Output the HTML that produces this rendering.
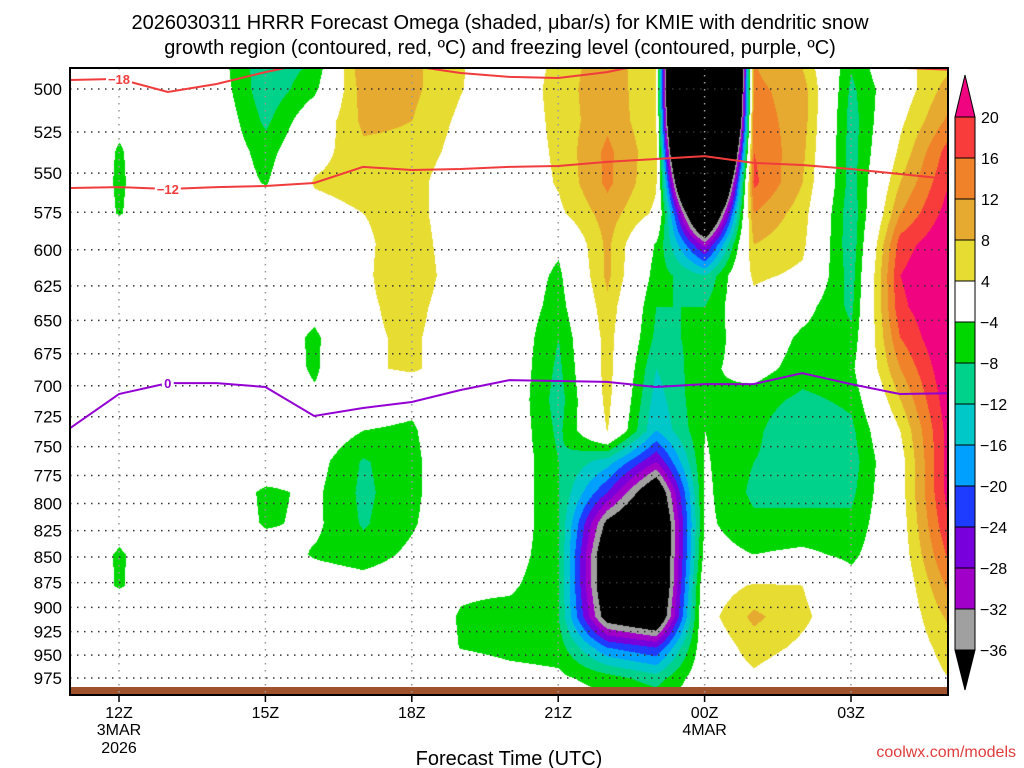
<!DOCTYPE html>
<html><head><meta charset="utf-8">
<style>
body{margin:0;background:#fff;width:1024px;height:768px;overflow:hidden;font-family:"Liberation Sans",sans-serif;}
#wrap{position:relative;width:1024px;height:768px;}
canvas{position:absolute;left:70px;top:68px;}
svg{position:absolute;left:0;top:0;}
</style></head>
<body>
<div id="wrap">
<canvas id="cv" width="878" height="627"></canvas>
<svg id="sv" width="1024" height="768"></svg>
</div>
<script>
// ---- data ----
const hours = [11,12,13,14,15,16,17,18,19,20,21,22,23,24,25,26,27,28,29];
const levels = [482.7,500,517.9,536.4,555.5,575.5,596.0,617.4,639.5,662.4,686.1,710.6,736.0,762.4,789.6,817.9,847.2,877.5,908.9,941.4,975,1009.9];
const omega11 = [0,0,0,0,0,0,0,0,0,0,0,0,0,0,0,0,0,0,0,0,0,0];
const omega12 = [0,0,-3,-4.4,-4.6,-4.3,0,0,0,0,0,0,0,0,0,-2,-4.6,-4.5,0,0,0,0];
const omega13 = [0,0,0,0,0,0,0,0,0,0,0,0,0,0,0,0,0,0,0,0,0,0];
const omega14 = [-2,-1,0,0,0,0,0,0,0,0,0,0,0,0,0,0,0,0,0,0,0,0];
const omega15 = [-11,-11,-9,-6,-4.5,0,0,0,0,0,0,0,0,0,-5,-4.6,-1,0,0,0,0,0];
const omega16 = [-8,-5,0,2,4.5,2,0,0,-2,-5,-4.8,-3,0,-2,-3,-3,-4.5,-1,0,0,0,0];
const omega17 = [12,10,9,7,6,4,3,3,3,3,3,-2,-4,-8.5,-9,-8.5,-6,-2,0,0,0,0];
const omega18 = [9,9,8,7,6,6,7,8,6,5,5,-3,-4.5,-5,-5,-4.5,-3,-1,0,0,0,0];
const omega19 = [4.5,4.2,3,2,0,0,0,0,0,0,0,0,0,0,0,0,0,-3,-4.5,-4.2,0,0];
const omega20 = [0,0,0,0,0,0,0,0,0,0,0,0,0,0,0,0,-1,-3,-6,-5.5,-2,0];
const omega21 = [5,6,5.5,5,4.5,3,-3,-5,-6,-8,-9,-10,-9,-8,-8,-8,-8,-8,-8,-6,-3,0];
const omega22 = [11,11,11,13,13,10,9,9,7,6,6,5.5,4.2,-14,-24,-38,-44,-44,-40,-20,-6,-2];
const omega23 = [4,4,4.5,5,4.5,3,-4.5,-6,-8,-9,-12,-14,-16,-28,-44,-50,-50,-50,-46,-24,-10,-3];
const omega00 = [-200,-200,-180,-140,-100,-60,-30,-12,-8,-7,-5,-4,-4,-3.5,-3,-3,-2,1,2,0,0,0];
const omega01 = [12,13,14,16,17,12,8,5,2,0,-2,-6,-7,-8,-9,-7,-4,4.5,9,6,3,0];
const omega02 = [7,10,10,9,8,6,5,3,-2,-5,-6,-9,-12,-10,-9,-7,-3,4,5,3,0,0];
const omega03 = [-7,-9,-10,-10,-10,-11,-11,-10,-9,-7,-5,-7,-9,-10,-9,-7,-5,-2,0,0,0,0];
const omega04 = [3,1,3,5,8,12,18,20,19,16,12,8,4,2,2,1.5,1,0,0,0,0,0];
const omega05 = [6,10,13,18,20,22,24,25,25,25,24,23,22,22,22,20,17,13,9,6,4,2];
const omegaCols = [omega11,omega12,omega13,omega14,omega15,omega16,omega17,omega18,omega19,omega20,omega21,omega22,omega23,omega00,omega01,omega02,omega03,omega04,omega05];

const lineHours = [11,12,13,14,15,16,17,18,19,20,21,22,23,24,25,26,27,28,29];
const isoMinus12 = [559.4,558.8,560.0,558.8,558.1,556.2,546.2,548.1,547.5,546.2,545.6,543.1,541.3,539.5,543.7,545.0,547.5,550.6,553.7];
const isoMinus18 = [494.9,494.3,501.7,497.2,490.5,484.9,484.0,487.1,491.0,493.2,493.8,490.5,484.9,484.0,484.0,484.9,487.1,488.1,489.2];
const isoZero = [734.4,706.6,697.9,697.9,701.0,724.4,717.9,713.0,703.4,695.5,696.2,696.9,701.0,698.7,698.7,690.0,698.7,706.6,705.9];

const yTicks = [500,525,550,575,600,625,650,675,700,725,750,775,800,825,850,875,900,925,950,975];
const xTickHours = [12,15,18,21,24,27];
const xTickLabels = ["12Z","15Z","18Z","21Z","00Z","03Z"];
const cbarLevels = [20,16,12,8,4,-4,-8,-12,-16,-20,-24,-28,-32,-36];
const cbarColors = ["#f83c3c","#f0822a","#e6aa30","#e6dc32","#ffffff","#00d700","#00d28c","#00c8c8","#00a0ff","#1e3cff","#7800dc","#a000c8","#a0a0a0"];

// ---- axes ----
const X0=70,X1=948,Y0=68,Y1=695;
const xs = h => 119 + (h-12)*48.8;
const ys = p => 89 + 882*Math.log(p/500);
function colorFor(v){
  if(v>20) return [240,4,127];
  if(v<-36) return [0,0,0];
  const th=[16,12,8,4,-4,-8,-12,-16,-20,-24,-28,-32,-36];
  for(let i=0;i<th.length;i++){ if(v>=th[i]){ const c=cbarColors[i]; return [parseInt(c.substr(1,2),16),parseInt(c.substr(3,2),16),parseInt(c.substr(5,2),16)]; } }
  return [0,0,0];
}
// ---- shading ----
const cv=document.getElementById('cv'),ctx=cv.getContext('2d');
const img=ctx.createImageData(cv.width,cv.height);
const yLev=levels.map(ys);
for(let py=0;py<cv.height;py++){
  const y=py+Y0;
  let r0=0; while(r0<levels.length-2 && yLev[r0+1]<y) r0++;
  let fr=(y-yLev[r0])/(yLev[r0+1]-yLev[r0]); fr=Math.max(0,Math.min(1,fr));
  for(let px=0;px<cv.width;px++){
    const h=12+((px+X0)-119)/48.8;
    let c=h-hours[0]; c=Math.max(0,Math.min(hours.length-1.0001,c));
    const c0=Math.floor(c),fc=c-c0;
    const v=(omegaCols[c0][r0]*(1-fc)+omegaCols[c0+1][r0]*fc)*(1-fr)+(omegaCols[c0][r0+1]*(1-fc)+omegaCols[c0+1][r0+1]*fc)*fr;
    const col=colorFor(v),k=(py*cv.width+px)*4;
    img.data[k]=col[0];img.data[k+1]=col[1];img.data[k+2]=col[2];img.data[k+3]=255;
  }
}
ctx.putImageData(img,0,0);

// ---- svg ----
const NS='http://www.w3.org/2000/svg',sv=document.getElementById('sv');
function mk(tag,attrs,text){const e=document.createElementNS(NS,tag);for(const k in attrs)e.setAttribute(k,attrs[k]);if(text!==undefined)e.textContent=text;sv.appendChild(e);return e;}
const defs=mk('defs',{});
const cp=document.createElementNS(NS,'clipPath');cp.setAttribute('id','clip');
const cr=document.createElementNS(NS,'rect');cr.setAttribute('x',X0);cr.setAttribute('y',Y0);cr.setAttribute('width',X1-X0);cr.setAttribute('height',Y1-Y0);
cp.appendChild(cr);defs.appendChild(cp);

// ground
let e=mk('rect',{x:X0,y:687,width:X1-X0,height:7,fill:'#a0522d'});



// grid
yTicks.forEach(p=>{
  let g=mk('line',{x1:X0,x2:X1,y1:ys(p),y2:ys(p),stroke:'#333','stroke-width':1.5,'stroke-dasharray':'1.5,5.5'});
  
  
  let t=mk('text',{x:62,y:ys(p)+6,'text-anchor':'end','font-size':17,fill:'#000'},String(p));
  
  
});
xTickHours.forEach((h,i)=>{
  let g=mk('line',{x1:xs(h),x2:xs(h),y1:Y0,y2:Y1,stroke:'#999','stroke-width':1.5,'stroke-dasharray':'1.5,5.5'});
  
  
  let tk=mk('line',{x1:xs(h),x2:xs(h),y1:Y1,y2:Y1+7,stroke:'#000','stroke-width':1.5});
  
  
  let t=mk('text',{x:xs(h),y:718,'text-anchor':'middle','font-size':16,fill:'#000'},xTickLabels[i]);
  
  
});
[['3MAR',12,735],['2026',12,753],['4MAR',24,735]].forEach(d=>{
  let t=mk('text',{x:xs(d[1]),y:d[2],'text-anchor':'middle','font-size':16,fill:'#000'},d[0]);
  
  
});

// contour lines
function pts(arr){return lineHours.map((h,i)=>xs(h).toFixed(1)+','+ys(arr[i]).toFixed(1)).join(' ');}
let l1=mk('polyline',{points:pts(isoMinus18),fill:'none',stroke:'#f03c3c','stroke-width':2,'clip-path':'url(#clip)'});


let l2=mk('polyline',{points:pts(isoMinus12),fill:'none',stroke:'#f03c3c','stroke-width':2,'clip-path':'url(#clip)'});


let l3=mk('polyline',{points:pts(isoZero),fill:'none',stroke:'#9400d3','stroke-width':2,'clip-path':'url(#clip)'});


function lab(txt,h,arr,i,col,name){
  const x=xs(h),y=ys(arr[i]);
  let r=mk('rect',{x:x-13,y:y-7,width:26,height:13,fill:'#fff'});
  
  
  let t=mk('text',{x:x,y:y+5,'text-anchor':'middle','font-size':13,'font-weight':'bold',fill:col},txt);
  
  
}
lab('\u221218',12,isoMinus18,1,'#f03c3c','label-minus18');
lab('\u221212',13,isoMinus12,2,'#f03c3c','label-minus12');
(function(){const x=xs(13),y=ys(isoZero[2]);let r=mk('rect',{x:x-6,y:y-7,width:12,height:13,fill:'#fff'});let t=mk('text',{x:x,y:y+5,'text-anchor':'middle','font-size':13,'font-weight':'bold',fill:'#9400d3'},'0');})();

// frame
let fr=mk('rect',{x:X0,y:Y0,width:X1-X0,height:Y1-Y0,fill:'none',stroke:'#000','stroke-width':2});



// colorbar
const CBX=955,CBW=20,cy=i=>117+i*41;
let tri=mk('polygon',{points:`${CBX},${cy(0)} ${CBX+CBW},${cy(0)} ${CBX+CBW/2},75`,fill:'#f0047f',stroke:'#000','stroke-width':1});


cbarColors.forEach((c,i)=>{
  let r=mk('rect',{x:CBX,y:cy(i),width:CBW,height:41,fill:c,stroke:'#000','stroke-width':1});
  
  
});
let tri2=mk('polygon',{points:`${CBX},${cy(13)} ${CBX+CBW},${cy(13)} ${CBX+CBW/2},690`,fill:'#000',stroke:'#000','stroke-width':1});


cbarLevels.forEach((v,i)=>{
  let t=mk('text',{x:v<0?980:981,y:cy(i)+6,'font-size':16,fill:'#000'},v<0?'\u2212'+(-v):String(v));
  
  
});

// titles
let t1=mk('text',{x:500,y:29,'text-anchor':'middle','font-size':20,fill:'#000'},'2026030311 HRRR Forecast Omega (shaded, \u03BCbar/s) for KMIE with dendritic snow');


let t2=mk('text',{x:500,y:54,'text-anchor':'middle','font-size':20,fill:'#000'},'growth region (contoured, red, \u00BAC) and freezing level (contoured, purple, \u00BAC)');


let xt=mk('text',{x:509,y:765,'text-anchor':'middle','font-size':20,fill:'#000'},'Forecast Time (UTC)');


let cr2=mk('text',{x:1016,y:757,'text-anchor':'end','font-size':16,fill:'#e03c3c'},'coolwx.com/models');


</script>
</body></html>
